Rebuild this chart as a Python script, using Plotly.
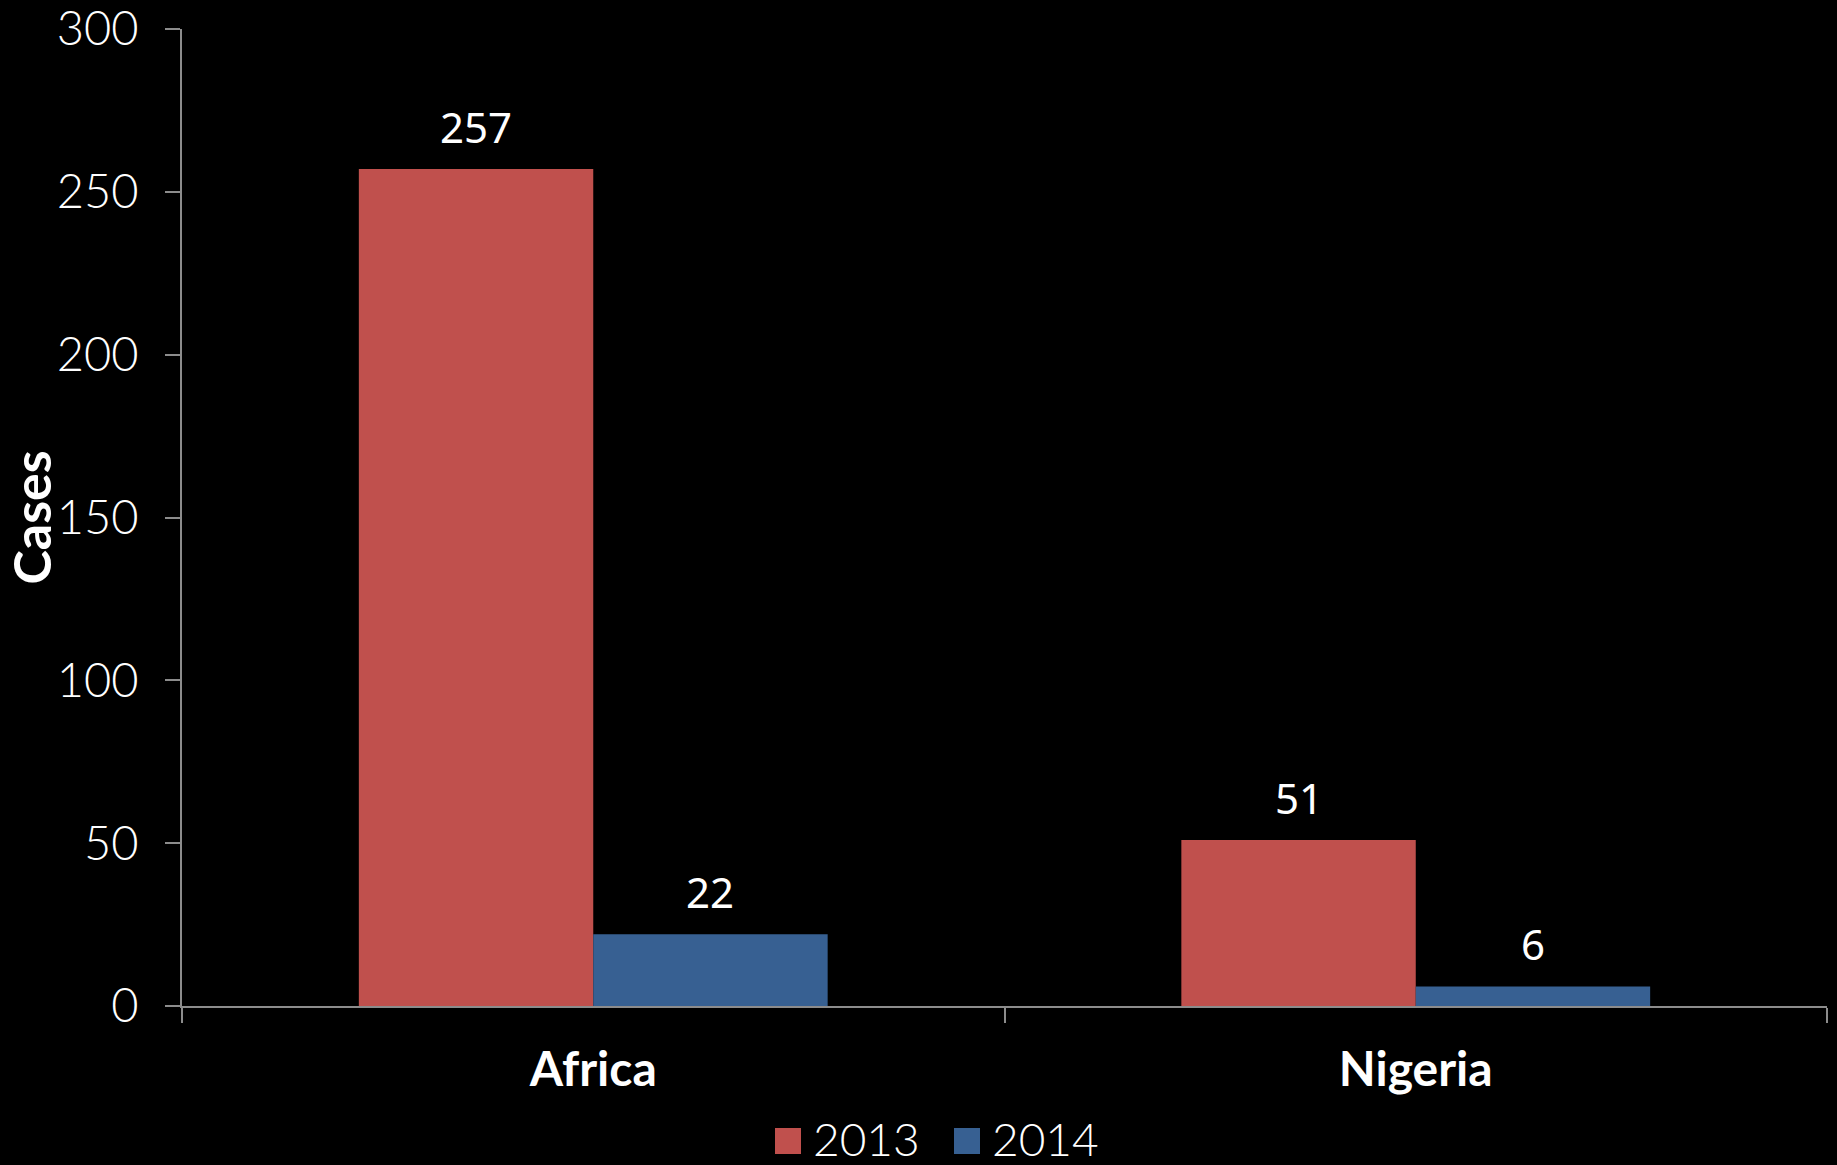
import plotly.graph_objects as go

categories = ["Africa", "Nigeria"]
series_names = ["2013", "2014"]
values_2013 = [257, 51]
values_2014 = [22, 6]
series_values = [values_2013, values_2014]
colors = ["#C0504D", "#376092"]
y_ticks = [0, 50, 100, 150, 200, 250, 300]

W, H = 1837, 1165
ml, mr, mt, mb = 182, 10, 29, 159
bargap = 0.43
plot_w = W - ml - mr
plot_h = H - mt - mb
cat_w = plot_w / len(categories)
bar_w = cat_w * (1 - bargap) / len(series_names)


def px_x(px):
    return (px - ml) / plot_w


def px_y(py):
    return (H - mb - py) / plot_h


fig = go.Figure()
for name, vals, col in zip(series_names, series_values, colors):
    fig.add_trace(go.Bar(x=categories, y=vals, name=name, marker_color=col,
                         marker_line_width=0, showlegend=False))

annotations = []
n = len(series_names)
for si, vals in enumerate(series_values):
    shift = (si - (n - 1) / 2) * bar_w
    for c, v in zip(categories, vals):
        annotations.append(dict(x=c, y=v, text=str(v), showarrow=False,
                                xshift=shift, yshift=12, yanchor="bottom",
                                font=dict(family="Noto Sans", size=42, color="white")))

# manual legend (squares + labels)
shapes = []
legend_left = [775, 954]
sq = 26
legend_cy = 1138
for name, col, lx in zip(series_names, colors, legend_left):
    shapes.append(dict(type="rect", xref="paper", yref="paper",
                       x0=px_x(lx), x1=px_x(lx + sq),
                       y0=px_y(legend_cy + sq / 2 + 3), y1=px_y(legend_cy - sq / 2 + 3),
                       fillcolor=col, line_width=0))
    annotations.append(dict(xref="paper", yref="paper", x=px_x(lx + sq + 10), y=px_y(legend_cy),
                            xanchor="left", yanchor="middle", text=name, showarrow=False,
                            font=dict(family="Lato", size=46, color="white", weight=300)))

fig.update_layout(
    width=W, height=H,
    margin=dict(l=ml, r=mr, t=mt, b=mb, autoexpand=False),
    paper_bgcolor="black", plot_bgcolor="black",
    barmode="group", bargap=bargap, bargroupgap=0,
    annotations=annotations, shapes=shapes,
    showlegend=False,
    xaxis=dict(type="category", showline=True, linecolor="#8c8c8c", linewidth=2,
               ticks="outside", tickson="boundaries", ticklen=15, tickcolor="#8c8c8c",
               tickwidth=2, showgrid=False, zeroline=False, ticklabelstandoff=20,
               automargin=False,
               tickfont=dict(family="Lato", size=48, color="white", weight=700)),
    yaxis=dict(range=[0, 300], tickvals=y_ticks, showline=True, linecolor="#8c8c8c",
               linewidth=2, ticks="outside", ticklen=15, tickcolor="#8c8c8c", tickwidth=2,
               showgrid=False, zeroline=False, ticklabelstandoff=17,
               ticklabeloverflow="allow", automargin=False,
               tickfont=dict(family="Lato", size=47, color="white", weight=300),
               title=dict(text="Cases", standoff=2,
                          font=dict(family="Lato", size=52, color="white", weight=700))),
)

fig.write_html("out.html", config={"displayModeBar": False})

with open("out.html", "r", encoding="utf-8") as f:
    html = f.read()
html = html.replace("<head>", "<head><style>html,body{margin:0;padding:0;background:#000;overflow:hidden}</style>", 1)
with open("out.html", "w", encoding="utf-8") as f:
    f.write(html)
